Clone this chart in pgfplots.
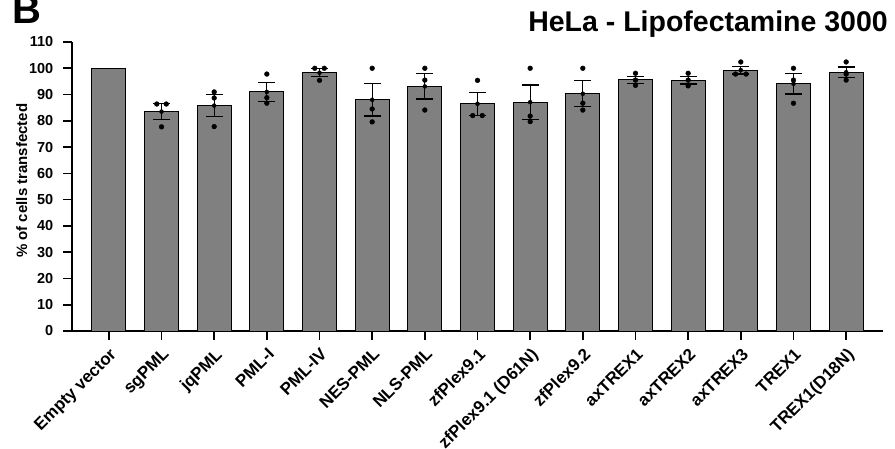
\documentclass[border=0pt]{standalone}
\usepackage{fontspec}
\setmainfont{Liberation Sans}
\usepackage{pgfplots}
\pgfplotsset{compat=1.18}
\definecolor{bargray}{RGB}{128,128,128}
\begin{document}
\begin{tikzpicture}
\useasboundingbox (-72pt,-117pt) rectangle (823pt,331pt);
\begin{axis}[
  scale only axis, width=811pt, height=289pt,
  xmin=-0.7, xmax=14.7, ymin=0, ymax=110,
  axis x line*=bottom, axis y line*=left,
  axis line style={line width=1.8pt},
  ytick={0,10,...,110},
  yticklabels={0,10,20,30,40,50,60,70,80,90,100,110},
  xtick={0,...,14},
  xticklabels={Empty vector, sgPML, jqPML, PML-I, PML-IV, NES-PML, NLS-PML, zfPlex9.1, zfPlex9.1 (D61N), zfPlex9.2, axTREX1, axTREX2, axTREX3, TREX1, TREX1(D18N)},
  tick align=outside, major tick length=9pt,
  tick style={line width=1.6pt, black},
  every y tick label/.append style={xshift=-8pt, inner sep=1.5pt, font=\bfseries\fontsize{14.5}{14.5}\selectfont},
  every x tick label/.append style={yshift=-4pt, font=\bfseries\fontsize{17}{17}\selectfont, rotate=45, anchor=north east, inner sep=2pt},
  ylabel={\% of cells transfected},
  ylabel style={font=\bfseries\fontsize{15}{15}\selectfont, at={(axis description cs:-0.062,0.52)}, anchor=center},
  clip=false,
]
\addplot[ybar, bar width=34pt, fill=bargray, draw=black, line width=1pt] coordinates {
(0,100) (1,83.5) (2,85.8) (3,91.0) (4,98.3) (5,88.0) (6,93.1) (7,86.5) (8,87.1) (9,90.3) (10,95.6) (11,95.4) (12,99.3) (13,94.1) (14,98.5)};
\addplot[black, only marks, mark=none, forget plot,
  error bars/.cd, y dir=both, y explicit,
  error bar style={line width=1.2pt, black},
  error mark options={rotate=90, mark size=8.5pt, line width=1.2pt, black}] coordinates {
(1,83.5) +- (0,3.0)
(2,85.8) +- (0,4.2)
(3,91.0) +- (0,3.5)
(4,98.3) +- (0,1.5)
(5,88.0) +- (0,6.2)
(6,93.1) +- (0,4.8)
(7,86.5) +- (0,4.4)
(8,87.1) +- (0,6.5)
(9,90.3) +- (0,4.9)
(10,95.6) +- (0,1.3)
(11,95.4) +- (0,1.4)
(12,99.3) +- (0,1.5)
(13,94.1) +- (0,3.9)
(14,98.5) +- (0,2.0)};
\addplot[black, only marks, mark=*, mark size=2.4pt] coordinates {
(0.91,86.4) (1.09,86.4) (1,77.7)
(2,91.0) (2,88.7) (2,77.8)
(3,97.8) (3,88.8) (3,86.7)
(3.91,100) (4.09,100) (4,95.4)
(5,100) (5,84.5) (5,79.6)
(6,100) (6,95.5) (6,84.1)
(7,95.4) (6.91,82.0) (7.09,82.0)
(8,100) (8,81.8) (8,79.7)
(9,100) (9,86.7) (9,84.1)
(10,98.1) (10,95.5) (10,93.5)
(11,98.1) (11,95.5) (11,93.3)
(12,102.4) (11.9,97.8) (12.1,97.8)
(13,100) (13,95.5) (13,86.7)
(14,102.4) (14,97.8) (14,95.5)};
\end{axis}
\node[anchor=base east, inner sep=0, font=\bfseries\fontsize{28.5}{28.5}\selectfont] at (816pt,299pt) {HeLa - Lipofectamine 3000};
\node[anchor=base west, inner sep=0, font=\bfseries\fontsize{40}{40}\selectfont] at (-60pt,307pt) {B};
\end{tikzpicture}
\end{document}
